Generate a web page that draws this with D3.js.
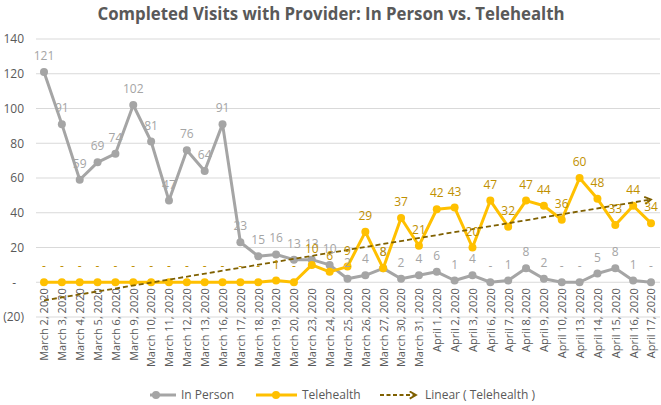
<!DOCTYPE html>
<html><head><meta charset="utf-8">
<script src="https://cdn.jsdelivr.net/npm/d3@7"></script>
<style>body{margin:0;background:#fff}svg{display:block}text{font-family:"Open Sans",sans-serif}</style>
</head><body>
<svg id="c" width="661" height="405"></svg>
<script>
const categories = ["March 2, 2020","March 3, 2020","March 4, 2020","March 5, 2020","March 6, 2020","March 9, 2020","March 10, 2020","March 11, 2020","March 12, 2020","March 13, 2020","March 16, 2020","March 17, 2020","March 18, 2020","March 19, 2020","March 20, 2020","March 23, 2020","March 24, 2020","March 25, 2020","March 26, 2020","March 27, 2020","March 30, 2020","March 31, 2020","April 1, 2020","April 2, 2020","April 3, 2020","April 6, 2020","April 7, 2020","April 8, 2020","April 9, 2020","April 10, 2020","April 13, 2020","April 14, 2020","April 15, 2020","April 16, 2020","April 17, 2020"];
const inPerson = [121,91,59,69,74,102,81,47,76,64,91,23,15,16,13,13,10,2,4,8,2,4,6,1,4,0,1,8,2,0,0,5,8,1,0];
const telehealth = [0,0,0,0,0,0,0,0,0,0,0,0,0,1,0,10,6,9,29,8,37,21,42,43,20,47,32,47,44,36,60,48,33,44,34];
const yTicks = [-20,0,20,40,60,80,100,120,140];
const title = "Completed Visits with Provider: In Person vs. Telehealth";
const seriesNames = ["In Person","Telehealth","Linear ( Telehealth )"];

const svg = d3.select("#c");
const x = d3.scalePoint().domain(categories).range([44,651]);
const y = d3.scaleLinear().domain([-20,140]).range([317,39]);
const fmt = v => v === 0 ? "-" : (v < 0 ? "(" + Math.abs(v) + ")" : String(v));

// title
svg.append("text").attr("x",331).attr("y",20).attr("text-anchor","middle")
  .attr("font-size",18).attr("font-weight","bold").attr("fill","#595959")
  .attr("textLength",467).attr("lengthAdjust","spacingAndGlyphs").text(title);

// gridlines
svg.append("g").selectAll("line").data(yTicks).join("line")
  .attr("x1",36).attr("x2",660).attr("y1",d=>y(d)).attr("y2",d=>y(d))
  .attr("stroke","#d9d9d9").attr("stroke-width",1);

// y axis labels
const yAxis = d3.axisLeft(y).tickValues(yTicks).tickSize(0).tickPadding(0).tickFormat(fmt);
const yg = svg.append("g").attr("transform","translate(24,0)").call(yAxis);
yg.select(".domain").remove();
yg.selectAll("text").attr("font-size",12).attr("fill","#595959").attr("font-family","Open Sans")
  .attr("dx", d => d === 0 ? -8 : 0);

// x axis labels
const xAxis = d3.axisBottom(x).tickSize(0).tickPadding(0);
const xg = svg.append("g").attr("transform","translate(0," + y(0) + ")").call(xAxis);
xg.select(".domain").remove();
xg.selectAll("text").attr("font-size",11).attr("fill","#595959").attr("font-family","Open Sans")
  .attr("text-anchor","end").attr("transform","rotate(-90)").attr("x",-6).attr("y",0).attr("dy","0.35em");

// trendline
const n = telehealth.length, idx = d3.range(n);
const mx = d3.mean(idx), my = d3.mean(telehealth);
const slope = d3.sum(idx, i => (i-mx)*(telehealth[i]-my)) / d3.sum(idx, i => (i-mx)*(i-mx));
const icpt = my - slope*mx;
const defs = svg.append("defs");
defs.append("marker").attr("id","arr").attr("viewBox","0 0 10 10").attr("refX",8).attr("refY",5)
  .attr("markerWidth",5).attr("markerHeight",5).attr("orient","auto")
  .append("path").attr("d","M1,1 L8,5 L1,9").attr("fill","none").attr("stroke","#7f6000").attr("stroke-width",2);

const line = d3.line().x((d,i)=>x(categories[i])).y(d=>y(d));

svg.append("path").datum(inPerson).attr("d",line).attr("fill","none")
  .attr("stroke","#a5a5a5").attr("stroke-width",3).attr("stroke-linejoin","round");
svg.append("g").selectAll("circle").data(inPerson).join("circle")
  .attr("cx",(d,i)=>x(categories[i])).attr("cy",d=>y(d)).attr("r",4).attr("fill","#a5a5a5");

svg.append("path").datum(telehealth).attr("d",line).attr("fill","none")
  .attr("stroke","#ffc000").attr("stroke-width",3).attr("stroke-linejoin","round");
svg.append("g").selectAll("circle").data(telehealth).join("circle")
  .attr("cx",(d,i)=>x(categories[i])).attr("cy",d=>y(d)).attr("r",4).attr("fill","#ffc000");

svg.append("line")
  .attr("x1",x(categories[0])).attr("y1",y(icpt))
  .attr("x2",x(categories[n-1])).attr("y2",y(icpt+slope*(n-1)))
  .attr("stroke","#7f6000").attr("stroke-width",1.8).attr("stroke-dasharray","5,3")
  .attr("marker-end","url(#arr)");

// data labels
function labels(data, color){
  svg.append("g").selectAll("text").data(data).join("text")
    .attr("x",(d,i)=>x(categories[i])).attr("y",d=>y(d)-12)
    .attr("text-anchor","middle").attr("font-size",12).attr("fill",color).text(fmt);
}
labels(inPerson,"#a5a5a5");
labels(telehealth,"#bf9000");

// legend
const lg = svg.append("g").attr("font-size",12).attr("fill","#595959");
lg.append("line").attr("x1",150).attr("x2",176).attr("y1",395).attr("y2",395).attr("stroke","#a5a5a5").attr("stroke-width",3);
lg.append("circle").attr("cx",156).attr("cy",395).attr("r",4).attr("fill","#a5a5a5");
lg.append("text").attr("x",181).attr("y",395).attr("dy","0.35em").text(seriesNames[0]);
lg.append("line").attr("x1",256).attr("x2",297).attr("y1",395).attr("y2",395).attr("stroke","#ffc000").attr("stroke-width",3);
lg.append("circle").attr("cx",276).attr("cy",395).attr("r",4).attr("fill","#ffc000");
lg.append("text").attr("x",302).attr("y",395).attr("dy","0.35em").text(seriesNames[1]);
lg.append("line").attr("x1",380).attr("x2",416).attr("y1",395).attr("y2",395).attr("stroke","#7f6000").attr("stroke-width",1.8)
  .attr("stroke-dasharray","4,2.5").attr("marker-end","url(#arr)");
lg.append("text").attr("x",425).attr("y",395).attr("dy","0.35em").text(seriesNames[2]);
</script>
</body></html>
